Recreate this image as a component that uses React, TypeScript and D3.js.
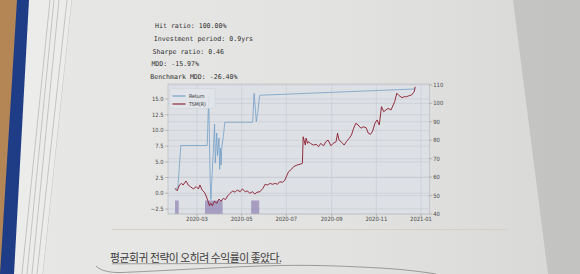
import React from "react";
import * as d3 from "d3";

const statLines = [
  "Hit ratio: 100.00%",
  "Investment period: 0.9yrs",
  "Sharpe ratio: 0.46",
  "MDD: -15.97%",
  "Benchmark MDD: -26.40%",
];
const caption = "평균회귀 전략이 오히려 수익률이 좋았다.";

const tsmDates = [
  "2020-01-31","2020-02-03","2020-02-06","2020-02-09","2020-02-11","2020-02-15","2020-02-18","2020-02-21","2020-02-25","2020-02-29",
  "2020-03-03","2020-03-05","2020-03-08","2020-03-11","2020-03-13","2020-03-16","2020-03-18","2020-03-20","2020-03-22","2020-03-25",
  "2020-03-28","2020-03-31","2020-04-03","2020-04-06","2020-04-09","2020-04-12","2020-04-15","2020-04-19","2020-04-22","2020-04-25",
  "2020-04-29","2020-05-02","2020-05-06","2020-05-09","2020-05-12","2020-05-16","2020-05-19","2020-05-22","2020-05-26","2020-05-30",
  "2020-06-02","2020-06-05","2020-06-09","2020-06-12","2020-06-16","2020-06-19","2020-06-22","2020-06-26","2020-06-29","2020-07-04",
  "2020-07-08","2020-07-11","2020-07-16","2020-07-20","2020-07-23","2020-07-24","2020-07-27","2020-07-28","2020-07-30","2020-07-31",
  "2020-08-03","2020-08-07","2020-08-11","2020-08-14","2020-08-17","2020-08-21","2020-08-24","2020-08-27","2020-08-31","2020-09-03",
  "2020-09-07","2020-09-09","2020-09-11","2020-09-15","2020-09-18","2020-09-21","2020-09-25","2020-09-28","2020-10-01","2020-10-04",
  "2020-10-07","2020-10-11","2020-10-14","2020-10-18","2020-10-21","2020-10-24","2020-10-27","2020-10-30","2020-11-02","2020-11-05",
  "2020-11-08","2020-11-11","2020-11-14","2020-11-17","2020-11-21","2020-11-24","2020-11-26","2020-11-29","2020-12-02","2020-12-06",
  "2020-12-09","2020-12-12","2020-12-16","2020-12-19","2020-12-22","2020-12-23","2020-12-24",
];
const tsmValues = [
  53.9,52.6,55.7,56.6,55.7,57.9,55.7,54.8,53.6,54.8,
  53.6,55.7,53.0,51.8,50.3,47.0,44.5,45.8,44.5,47.0,
  45.8,48.1,47.0,48.5,47.8,49.9,51.2,52.5,51.8,53.0,
  52.1,53.6,52.1,52.5,51.2,52.1,50.8,51.8,52.1,53.9,
  56.1,55.7,56.6,56.1,56.6,56.1,57.5,57.2,58.4,62.9,
  64.2,65.7,66.6,67.0,67.5,81.9,77.4,81.1,78.3,79.2,
  78.3,77.4,77.8,76.5,78.3,77.0,79.2,80.1,77.0,78.3,
  79.2,83.8,80.1,78.7,77.4,79.2,81.1,82.8,86.5,89.2,
  88.3,86.5,87.3,86.8,83.8,83.2,85.0,89.2,91.0,88.3,
  98.2,95.5,96.4,97.3,96.4,99.1,100.9,105.5,104.2,103.1,
  103.6,103.6,104.2,104.5,106.0,106.7,109.0,
];

const retDates = [
  "2020-01-31","2020-02-03","2020-02-04","2020-02-08","2020-03-15","2020-03-17","2020-03-19","2020-03-20","2020-03-21","2020-03-23",
  "2020-03-25","2020-03-26","2020-03-28","2020-03-29","2020-03-31","2020-04-01","2020-04-02","2020-04-03","2020-04-04","2020-04-06",
  "2020-04-08","2020-05-16","2020-05-18","2020-05-20","2020-05-21","2020-05-23","2020-05-25","2020-05-26","2020-12-24",
];
const retValues = [
  0.5,0.9,1.1,7.6,7.6,15.4,2.0,-1.0,1.5,6.0,
  11.0,4.8,9.6,6.0,8.8,3.8,7.2,4.5,7.5,9.0,
  11.3,11.3,15.9,13.0,11.4,12.8,15.0,15.6,16.6,
];

const holdStart = ["2020-01-31", "2020-03-12", "2020-05-14"];
const holdEnd = ["2020-02-05", "2020-04-05", "2020-05-25"];
const holdTop = -1.15;

const leftTicks = [-2.5, 0, 2.5, 5, 7.5, 10, 12.5, 15];
const rightTicks = [40, 50, 60, 70, 80, 90, 100, 110];
const xTickDates = ["2020-03-01", "2020-05-01", "2020-07-01", "2020-09-01", "2020-11-01", "2021-01-01"];
const legendLabels = ["Return", "TSM(R)"];

const RET_COLOR = "#6e9cc6";
const TSM_COLOR = "#8a1b2b";
const HOLD_COLOR = "#7A68A6";

export default function App() {
  const W = 580, H = 274;
  const L = 168, R = 429.5, T = 84, B = 214;
  const parse = d3.timeParse("%Y-%m-%d");
  const fmt = d3.timeFormat("%Y-%m");

  const x = d3.scaleTime()
    .domain([new Date(2020, 0, 21, 10), new Date(2021, 0, 12, 14)])
    .range([L, R]);
  const yL = d3.scaleLinear().domain([-3.3, 17.39]).range([B, T]);
  const yR = d3.scaleLinear().domain([40, 110.5]).range([B, T]);

  const tsm = tsmDates.map((d, i) => ({ d: parse(d) as Date, v: tsmValues[i] }));
  const ret = retDates.map((d, i) => ({ d: parse(d) as Date, v: retValues[i] }));

  const lineT = d3.line<{ d: Date; v: number }>().x((p) => x(p.d)).y((p) => yR(p.v));
  const lineR = d3.line<{ d: Date; v: number }>().x((p) => x(p.d)).y((p) => yL(p.v));

  const tickFont = "'DejaVu Sans Condensed', 'DejaVu Sans', sans-serif";
  const tickFs = 5.8;
  const tickColor = "#4a4a4a";

  return (
    <svg width={W} height={H} style={{ position: "absolute", left: 0, top: 0 }}>
      <defs>
        <linearGradient id="pageG" x1="0" x2="1" y1="0" y2="0">
          <stop offset="0" stopColor="#e7e7e5" />
          <stop offset="0.6" stopColor="#e2e2e0" />
          <stop offset="1" stopColor="#d9d9d7" />
        </linearGradient>
        <linearGradient id="rightG" x1="0" x2="1" y1="0" y2="0">
          <stop offset="0" stopColor="#cfcfce" />
          <stop offset="1" stopColor="#c3c3c2" />
        </linearGradient>
      </defs>

      {/* photo background */}
      <rect x={0} y={0} width={W} height={H} fill="url(#rightG)" />
      <polygon points="0,0 20,0 4,274 0,274" fill="#b48656" />
      <polygon points="17,0 31,0 16,274 0,274" fill="#1f3d86" />
      <polygon points="29,0 75,0 46,274 14,274" fill="#ececeb" />
      {[[50, 22], [54, 27], [59, 32], [67, 37], [72, 43]].map(([a, b], i) => (
        <line key={i} x1={a} y1={0} x2={b} y2={274} stroke="#a8a8a8" strokeWidth={0.6} />
      ))}
      <polygon points="72,0 513,0 548,274 43,274" fill="url(#pageG)" />

      {/* stats text */}
      {statLines.map((s, i) => (
        <text
          key={i}
          x={155 - i * 1.2}
          y={28.3 + i * 12.7}
          fontFamily="'DejaVu Sans Mono', monospace"
          fontSize={6.6}
          fill="#303030"
        >
          {s}
        </text>
      ))}

      {/* plot area */}
      <rect x={L} y={T} width={R - L} height={B - T} fill="#dde0e5" />
      <g stroke="#c6cad0" strokeWidth={0.6}>
        {leftTicks.map((t) => (
          <line key={"gl" + t} x1={L} x2={R} y1={yL(t)} y2={yL(t)} />
        ))}
        {rightTicks.map((t) => (
          <line key={"gr" + t} x1={L} x2={R} y1={yR(t)} y2={yR(t)} />
        ))}
        {xTickDates.map((t) => {
          const xx = x(parse(t) as Date);
          return <line key={"gx" + t} x1={xx} x2={xx} y1={T} y2={B} />;
        })}
      </g>

      {/* holding periods */}
      {holdStart.map((s, i) => {
        const x0 = x(parse(s) as Date);
        const x1 = x(parse(holdEnd[i]) as Date);
        return (
          <rect
            key={"h" + i}
            x={x0}
            y={yL(holdTop)}
            width={x1 - x0}
            height={B - yL(holdTop)}
            fill={HOLD_COLOR}
            opacity={0.55}
          />
        );
      })}

      <path d={lineR(ret) || ""} fill="none" stroke={RET_COLOR} strokeWidth={0.9} opacity={0.85} />
      <path d={lineT(tsm) || ""} fill="none" stroke={TSM_COLOR} strokeWidth={0.9} />

      <rect x={L} y={T} width={R - L} height={B - T} fill="none" stroke="#b9bdc3" strokeWidth={0.7} />

      {/* legend */}
      <rect x={170} y={88.5} width={45} height={20} rx={1.5} fill="#e2e5e9" stroke="#cdd0d5" strokeWidth={0.5} opacity={0.9} />
      {legendLabels.map((lab, i) => (
        <g key={lab}>
          <line
            x1={172.5}
            x2={185.5}
            y1={96 + i * 8}
            y2={96 + i * 8}
            stroke={i === 0 ? RET_COLOR : TSM_COLOR}
            strokeWidth={1.1}
          />
          <text x={189} y={98 + i * 8} fontFamily={tickFont} fontStretch="condensed" fontSize={5.2} fill="#333">
            {lab}
          </text>
        </g>
      ))}

      {/* left axis */}
      {leftTicks.map((t) => (
        <g key={"lt" + t}>
          <line x1={L - 2.8} x2={L} y1={yL(t)} y2={yL(t)} stroke="#888" strokeWidth={0.5} />
          <text
            x={L - 4.5}
            y={yL(t) + 2}
            textAnchor="end"
            fontFamily={tickFont}
            fontStretch="condensed"
            fontSize={tickFs}
            fill={tickColor}
          >
            {d3.format(".1f")(t)}
          </text>
        </g>
      ))}
      {/* right axis */}
      {rightTicks.map((t) => (
        <g key={"rt" + t}>
          <line x1={R} x2={R + 2.8} y1={yR(t)} y2={yR(t)} stroke="#888" strokeWidth={0.5} />
          <text
            x={R + 3.8}
            y={yR(t) + 2}
            fontFamily={tickFont}
            fontStretch="condensed"
            fontSize={tickFs}
            fill={tickColor}
          >
            {t}
          </text>
        </g>
      ))}
      {/* x axis */}
      {xTickDates.map((t) => {
        const dt = parse(t) as Date;
        const xx = x(dt);
        return (
          <g key={"xt" + t}>
            <line x1={xx} x2={xx} y1={B} y2={B + 2.8} stroke="#888" strokeWidth={0.5} />
            <text
              x={xx}
              y={B + 6.8}
              textAnchor="middle"
              fontFamily={tickFont}
              fontStretch="condensed"
              fontSize={tickFs}
              fill={tickColor}
            >
              {fmt(dt)}
            </text>
          </g>
        );
      })}

      {/* figure separator line */}
      <line x1={112} x2={507} y1={229.5} y2={229.5} stroke="#d7d0c4" strokeWidth={1} />

      {/* caption */}
      <text
        x={110}
        y={262}
        fontFamily="'Noto Sans CJK KR', sans-serif"
        fontSize={10.8}
        letterSpacing={-0.45}
        fill="#3c3c3c"
      >
        {caption}
      </text>
      <g fill="none" stroke="#5a5a5a" strokeWidth={0.7} opacity={0.75}>
        <path d="M112,263.8 L281,263.4" />
        <path d="M96,266 C100,270 108,273 122,272.5 C180,270 230,266.5 280,265.5 C320,264.8 350,266.5 380,268 C405,269.5 420,271.5 436,274" />
      </g>
    </svg>
  );
}
